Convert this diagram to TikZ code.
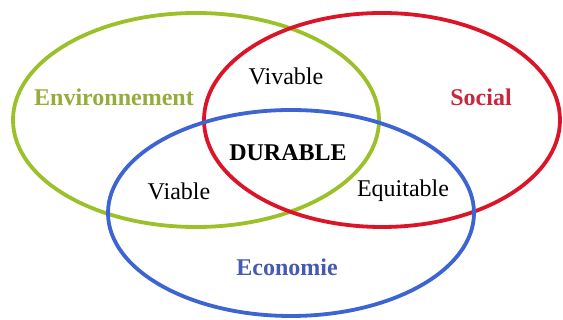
\documentclass[tikz,border=0pt]{standalone}
\usepackage{fontspec}
\setmainfont{Liberation Serif}
\usetikzlibrary{positioning}

\definecolor{envgreen}{RGB}{155,192,40}
\definecolor{envtext}{RGB}{150,172,60}
\definecolor{socred}{RGB}{220,20,40}
\definecolor{soctext}{RGB}{200,40,60}
\definecolor{ecoblue}{RGB}{60,100,210}
\definecolor{ecotext}{RGB}{70,90,180}

\begin{document}
\begin{tikzpicture}[x=1pt,y=1pt,
    ring/.style={line width=3.8pt},
    word/.style={font=\fontsize{24}{28}\selectfont},
    theme/.style={font=\fontsize{24}{28}\selectfont\bfseries}]

    \useasboundingbox[fill=white] (0,0) rectangle (563,320);

    \coordinate (env) at (196,200);
    \coordinate (soc) at (382,200);
    \coordinate (eco) at (291,107);

    \draw[ring,envgreen] (env) ellipse (183 and 107);
    \draw[ring,socred] (soc) ellipse (178 and 107);
    \draw[ring,ecoblue] (eco) ellipse (183 and 103);

    \node[theme,envtext] (envlabel) at (114,223) {Environnement};
    \node[theme,soctext] (soclabel) at (481,223) {Social};
    \node[theme,ecotext] (ecolabel) at (287,53) {Economie};

    \node[word] (vivable) at (286,244) {Vivable};
    \node[word] (viable) at (179,129) {Viable};
    \node[word] (equitable) at (403,129) {Equitable};
    \node[theme] (durable) at (288,167) {DURABLE};

\end{tikzpicture}
\end{document}
